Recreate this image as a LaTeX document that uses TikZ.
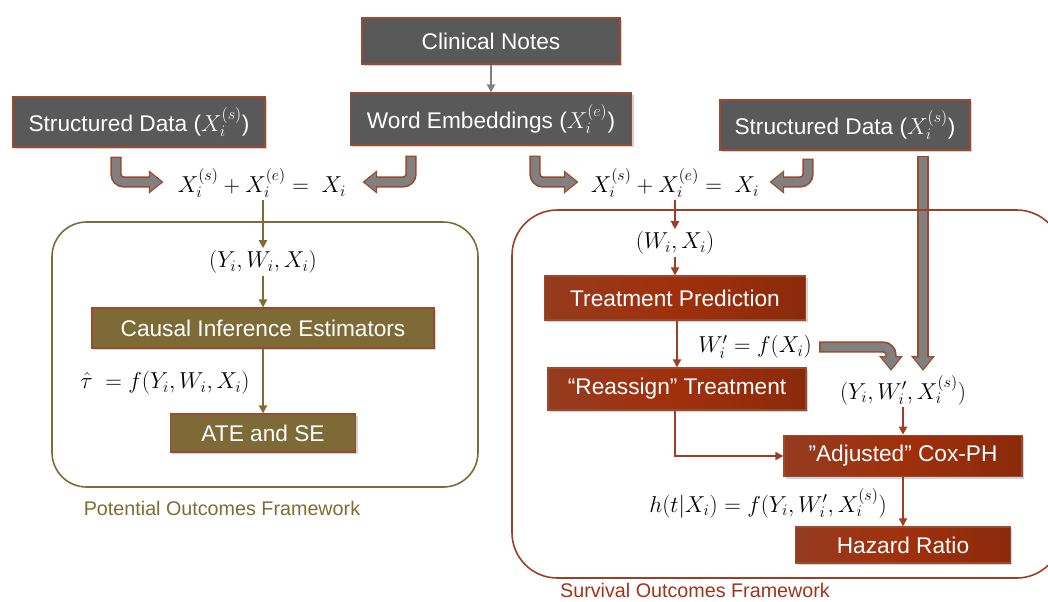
\documentclass[tikz,border=0pt]{standalone}
\usepackage[no-math]{fontspec}
\setmainfont{Liberation Sans}
\usetikzlibrary{arrows.meta,shadows,calc}

\definecolor{boxgrey}{HTML}{595959}
\definecolor{edgebrown}{HTML}{9A4A2E}
\definecolor{olivefill}{HTML}{7D6A36}
\definecolor{oliveedge}{HTML}{7F6B35}
\definecolor{rustleft}{HTML}{953B1F}
\definecolor{rustmid}{HTML}{A0300C}
\definecolor{rustright}{HTML}{8A2A0B}
\definecolor{rustedge}{HTML}{9E3E24}
\definecolor{arrowgrey}{HTML}{808080}
\definecolor{captionred}{HTML}{A0341A}

% fat bent arrow: brown rim, grey body
\newcommand{\fatarrow}[1]{\draw[fatout] #1; \draw[fatin] #1;}

\begin{document}
\begin{tikzpicture}[x=0.75pt, y=-0.75pt, >={Triangle[length=6pt, width=6pt]},
    box/.style={draw=edgebrown, line width=0.9pt, text=white, inner sep=0pt,
        font=\fontsize{17}{20}\selectfont,
        drop shadow={shadow xshift=1.5pt, shadow yshift=-1.5pt, opacity=0.35}},
    greybox/.style={box, fill=boxgrey},
    olivebox/.style={box, fill=olivefill},
    rustbox/.style={box, left color=rustleft, right color=rustright, middle color=rustmid},
    eq/.style={font=\fontsize{16.5}{20}\selectfont, inner sep=1.5pt},
    greyline/.style={draw=arrowgrey, line width=1.5pt},
    oliveline/.style={draw=oliveedge, line width=1.5pt},
    rustline/.style={draw=rustedge, line width=1.5pt},
    fatout/.style={draw=edgebrown, line width=8.5pt, rounded corners=6pt,
        -{Triangle[length=11pt, width=17pt]}},
    fatin/.style={draw=arrowgrey, line width=6pt, rounded corners=6pt,
        shorten <=1.2pt, shorten >=1.6pt, -{Triangle[length=8.5pt, width=13.5pt]}}]
    \useasboundingbox (0,0) rectangle (1048,601);

    % inputs
    \node[greybox, minimum width=193.5pt, minimum height=34.5pt] (notes) at (491,41) {Clinical Notes};
    \node[greybox, minimum width=211pt, minimum height=39pt] (emb) at (491,119) {Word Embeddings ($X_i^{(e)}$)};
    \node[greybox, minimum width=189pt, minimum height=37.5pt] (sdl) at (139,122) {Structured Data ($X_i^{(s)}$)};
    \node[greybox, minimum width=187.5pt, minimum height=37.5pt] (sdr) at (845,125) {Structured Data ($X_i^{(s)}$)};

    \node[eq] (eql) at (262,183) {$X_i^{(s)} + X_i^{(e)} = \ X_i$};
    \node[eq] (eqr) at (675,183) {$X_i^{(s)} + X_i^{(e)} = \ X_i$};

    \draw[->, greyline] (notes) -- (emb);

    % potential outcomes side
    \node[eq] (yw) at (263,262) {$(Y_i, W_i, X_i)$};
    \node[olivebox, minimum width=256.5pt, minimum height=30pt] (cie) at (263,328) {Causal Inference Estimators};
    \node[eq] (tau) at (165,383) {$\hat{\tau}\ = f(Y_i, W_i, X_i)$};
    \node[olivebox, minimum width=139pt, minimum height=28.5pt] (ate) at (263,433) {ATE and SE};
    \node[text=oliveedge, font=\fontsize{14.8}{17}\selectfont] (pocap) at (222,508) {Potential Outcomes Framework};

    \draw[->, oliveline] (eql.south -| yw) -- (yw);
    \draw[->, oliveline] (yw) -- (cie);
    \draw[->, oliveline] (cie) -- (ate);

    % survival side
    \node[eq] (wx) at (675,243) {$(W_i, X_i)$};
    \node[rustbox, minimum width=196pt, minimum height=33pt] (tp) at (675,298) {Treatment Prediction};
    \node[eq] (wf) at (755,347) {$W_i' = f(X_i)$};
    \node[rustbox, minimum width=193.5pt, minimum height=31.5pt] (rt) at (677,389) {“Reassign” Treatment};
    \node[eq] (yws) at (903,390) {$(Y_i, W_i', X_i^{(s)})$};
    \node[rustbox, minimum width=178.5pt, minimum height=31pt] (cox) at (903,456) {”Adjusted” Cox-PH};
    \node[eq] (hf) at (768,503) {$h(t|X_i) = f(Y_i, W_i', X_i^{(s)})$};
    \node[rustbox, minimum width=161pt, minimum height=27pt] (hr) at (903,545) {Hazard Ratio};
    \node[text=captionred, font=\fontsize{14.8}{17}\selectfont] (socap) at (695,590) {Survival Outcomes Framework};

    \draw[->, rustline] (eqr) -- (wx);
    \draw[->, rustline] (wx) -- (tp);
    \draw[->, rustline] (tp.south -| rt) -- (rt);
    \draw[->, rustline] (rt.south -| tp) |- (cox.west);
    \draw[->, rustline] (yws) -- (cox);
    \draw[->, rustline] (cox) -- (hr);

    % fat arrows
    \coordinate (tallstart) at ($(sdr.south)+(78,5)$);
    \coordinate (tallend) at ($(yws.north)+(20,-2)$);
    \fatarrow{($(sdl.south)+(-23,9)$) |- ($(eql.west)+(-12,-1)$)}
    \fatarrow{($(emb.south)+(-80,10)$) |- ($(eql.east)+(14,-1)$)}
    \fatarrow{($(emb.south)+(44,10)$) |- ($(eqr.west)+(-10,-1)$)}
    \fatarrow{($(sdr.south)+(-37,8)$) |- ($(eqr.east)+(8,-1)$)}
    \fatarrow{(tallstart) -- (tallstart |- tallend)}
    \fatarrow{($(wf.east)+(5,0)$) -| ($(yws.north)+(-12,-2)$)}

    % frameworks
    \draw[oliveedge, line width=1.2pt, rounded corners=26pt] (52,222) rectangle (478,487);
    \draw[rustedge, line width=1.2pt, rounded corners=34pt] (512,210) rectangle (1062,578);
\end{tikzpicture}
\end{document}
